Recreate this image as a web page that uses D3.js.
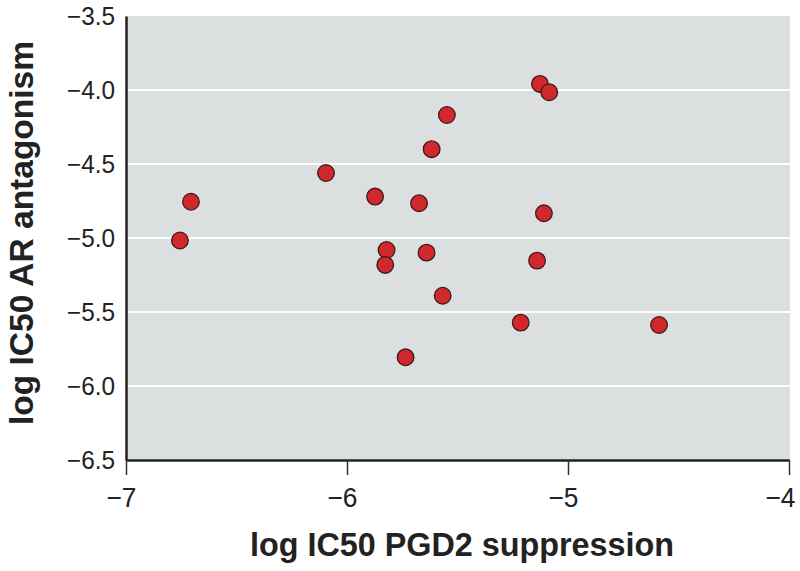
<!DOCTYPE html>
<html><head><meta charset="utf-8">
<script src="https://cdn.jsdelivr.net/npm/d3@7"></script>
<style>body{margin:0;background:#fff}</style>
</head><body><svg id="c" width="800" height="571"></svg>
<script>
const xValues = [-6.756,-6.706,-6.095,-5.873,-5.674,-5.821,-5.827,-5.640,-5.617,-5.548,-5.567,-5.735,-5.214,-5.140,-5.109,-5.127,-5.085,-4.588];
const yValues = [-5.017,-4.755,-4.561,-4.720,-4.765,-5.081,-5.182,-5.099,-4.400,-4.169,-5.390,-5.806,-5.572,-5.153,-4.833,-3.959,-4.015,-5.588];
const xTicks = [-7,-6,-5,-4];
const yTicks = [-3.5,-4.0,-4.5,-5.0,-5.5,-6.0,-6.5];
const xTitle = "log IC50 PGD2 suppression";
const yTitle = "log IC50 AR antagonism";

const svg = d3.select("#c");
const L=126,R=789,T=16,B=460;
const x = d3.scaleLinear().domain([-7,-4]).range([L,R]);
const y = d3.scaleLinear().domain([-6.5,-3.5]).range([B,T]);
const font = "'Liberation Sans Narrow','Arial Narrow','Liberation Sans',sans-serif";
const fmtY = d => d3.format(".1f")(d).replace("-","\u2212");
const fmtX = d => String(d).replace("-","\u2212");

svg.append("rect").attr("x",L).attr("y",T).attr("width",R-L+1).attr("height",B-T).attr("fill","#dcdfe0");
svg.append("g").selectAll("line").data(yTicks.filter(d=>d>-6.5&&d<-3.5)).join("line")
  .attr("x1",L).attr("x2",R+1).attr("y1",d=>y(d)).attr("y2",d=>y(d)).attr("stroke","#fff").attr("stroke-width",2);

const gx = svg.append("g").attr("transform",`translate(0,${B})`)
  .call(d3.axisBottom(x).tickValues(xTicks).tickFormat(fmtX).tickSize(15).tickSizeOuter(0));
gx.select(".domain").attr("stroke","#222").attr("stroke-width",2.5);
gx.selectAll(".tick line").attr("stroke","#333").attr("stroke-width",1.5);
gx.selectAll("text").attr("font-family",font).attr("font-size",28).attr("fill","#222")
  .attr("dy","0.95em").attr("y",20).attr("dx",(d,i)=> i===xTicks.length-1 ? -9 : -5)
  .attr("transform",function(){return null;});
// condense x tick labels slightly
gx.selectAll(".tick text").each(function(){
  const t=d3.select(this); t.attr("textLength",30).attr("lengthAdjust","spacingAndGlyphs");
});

const gy = svg.append("g").attr("transform",`translate(${L},0)`)
  .call(d3.axisLeft(y).tickValues(yTicks).tickFormat(fmtY).tickSize(0).tickSizeOuter(0).tickPadding(11));
gy.select(".domain").attr("stroke","#222").attr("stroke-width",2.5);
gy.selectAll("text").attr("font-family",font).attr("font-size",25).attr("fill","#222")
  .attr("textLength",48).attr("lengthAdjust","spacingAndGlyphs");

svg.append("g").selectAll("circle").data(xValues.map((v,i)=>[v,yValues[i]])).join("circle")
  .attr("cx",d=>x(d[0])).attr("cy",d=>y(d[1])).attr("r",8.3)
  .attr("fill","#d0282c").attr("stroke","#3a1a1a").attr("stroke-width",1.3);

svg.append("text").attr("x",462).attr("y",556).attr("text-anchor","middle")
  .attr("font-family",font).attr("font-weight","bold").attr("font-size",34).attr("fill","#222")
  .attr("textLength",424).attr("lengthAdjust","spacingAndGlyphs").text(xTitle);
svg.append("text").attr("transform","translate(33,233) rotate(-90)").attr("text-anchor","middle")
  .attr("font-family",font).attr("font-weight","bold").attr("font-size",34).attr("fill","#222")
  .attr("textLength",384).attr("lengthAdjust","spacingAndGlyphs").text(yTitle);
</script></body></html>
